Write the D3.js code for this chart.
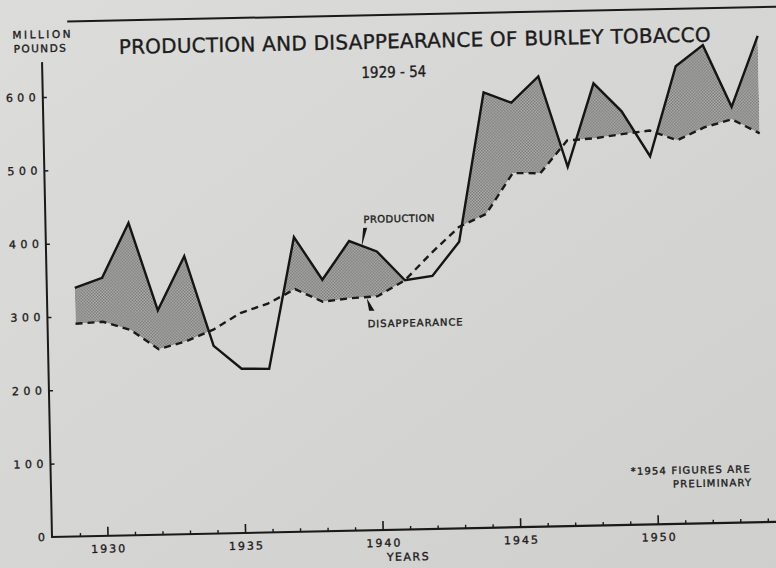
<!DOCTYPE html>
<html>
<head>
<meta charset="utf-8">
<script src="https://cdn.jsdelivr.net/npm/d3@7"></script>
<style>
  body { margin: 0; background: #d4d4d2; }
  svg { display: block; }
  text { font-family: "DejaVu Sans", sans-serif; fill: #1c1c1c; stroke: #1c1c1c; stroke-width: 0.35px; }
</style>
</head>
<body>
<div id="chart"></div>
<script>
// burley tobacco, million pounds
var years = [1929,1930,1931,1932,1933,1934,1935,1936,1937,1938,1939,1940,1941,
             1942,1943,1944,1945,1946,1947,1948,1949,1950,1951,1952,1953,1954];
var production = [339,352,426,306,379,256,224,223,402,343,395,380,340,
                  345,391,594,579,614,490,603,564,502,624,652,567,663];
var disappearance = [290,292,280,253,263,278,300,312,331,313,317,319,340,
                     377,411,428,483,482,526,528,533,537,523,540,550,530];
var yTicks = [0,100,200,300,400,500,600];
var majorYears = [1930,1935,1940,1945,1950];

var width = 776, height = 568;

var svg = d3.select("#chart").append("svg")
    .attr("width", width).attr("height", height);

var defs = svg.append("defs");

// photo paper tone
var grad = defs.append("linearGradient").attr("id", "paper")
    .attr("x1", "0").attr("y1", "0").attr("x2", "1").attr("y2", "1");
grad.append("stop").attr("offset", "0").attr("stop-color", "#dcdcda");
grad.append("stop").attr("offset", "1").attr("stop-color", "#cfcfcd");
svg.append("rect").attr("width", width).attr("height", height).attr("fill", "url(#paper)");

// stipple shading
var pat = defs.append("pattern").attr("id", "stipple")
    .attr("patternUnits", "userSpaceOnUse").attr("width", 3).attr("height", 3);
pat.append("rect").attr("width", 3).attr("height", 3).attr("fill", "#b5b5b3");
pat.append("rect").attr("width", 1.5).attr("height", 1.5).attr("fill", "#737373");
pat.append("rect").attr("x", 1.5).attr("y", 1.5).attr("width", 1.5).attr("height", 1.5).attr("fill", "#737373");

// the photographed sheet is tilted a little
var g = svg.append("g").attr("transform", "rotate(-1.2,52,537)");

var x = d3.scaleLinear().domain([1929, 1954]).range([80, 768]);
var y = d3.scaleLinear().domain([0, 600]).range([537, 97]);

var rows = years.map(function(yr, i) {
  return {year: yr, prod: production[i], dis: disappearance[i]};
});

// only shade where production is above disappearance
defs.append("clipPath").attr("id", "aboveDis")
  .append("path")
    .attr("d", d3.area()
        .x(function(d) { return x(d.year); })
        .y0(-50)
        .y1(function(d) { return y(d.dis); })(rows));

g.append("path")
    .attr("d", d3.area()
        .x(function(d) { return x(d.year); })
        .y0(function(d) { return y(d.prod); })
        .y1(function(d) { return y(d.dis); })(rows))
    .attr("fill", "url(#stipple)")
    .attr("clip-path", "url(#aboveDis)");

g.append("path")
    .attr("d", d3.line()
        .x(function(d) { return x(d.year); })
        .y(function(d) { return y(d.dis); })(rows))
    .attr("fill", "none")
    .attr("stroke", "#1a1a1a")
    .attr("stroke-width", 2.4)
    .attr("stroke-dasharray", "7,5");

g.append("path")
    .attr("d", d3.line()
        .x(function(d) { return x(d.year); })
        .y(function(d) { return y(d.prod); })(rows))
    .attr("fill", "none")
    .attr("stroke", "#151515")
    .attr("stroke-width", 2.4)
    .attr("stroke-linejoin", "miter");

// axes
g.append("line")
    .attr("x1", 52).attr("x2", 52).attr("y1", y(0)).attr("y2", 62)
    .attr("stroke", "#1a1a1a").attr("stroke-width", 2);
g.append("line")
    .attr("x1", 51).attr("x2", 800).attr("y1", y(0)).attr("y2", y(0))
    .attr("stroke", "#1a1a1a").attr("stroke-width", 2.2);

var yAxis = g.append("g").attr("transform", "translate(52,0)")
    .call(d3.axisLeft(y).tickValues(yTicks).tickSizeInner(-4).tickSizeOuter(0).tickPadding(2.5));
yAxis.select(".domain").remove();
yAxis.selectAll("line").attr("stroke", "#1a1a1a").attr("stroke-width", 1.5)
    .filter(function(d) { return d === 0; }).remove();
yAxis.selectAll("text")
    .attr("font-family", "DejaVu Sans").attr("font-size", 11)
    .style("letter-spacing", "4.5px").attr("fill", "#1c1c1c");

var xMajor = g.append("g").attr("transform", "translate(0," + y(0) + ")")
    .call(d3.axisBottom(x).tickValues(majorYears).tickFormat(d3.format("d"))
        .tickSizeInner(-9).tickSizeOuter(0).tickPadding(9));
xMajor.select(".domain").remove();
xMajor.selectAll("line").attr("stroke", "#1a1a1a").attr("stroke-width", 1.6);
xMajor.selectAll("text")
    .attr("font-family", "DejaVu Sans").attr("font-size", 11)
    .attr("dx", 1)
    .style("letter-spacing", "2px").attr("fill", "#1c1c1c");

var xMinor = g.append("g").attr("transform", "translate(0," + y(0) + ")")
    .call(d3.axisBottom(x)
        .tickValues(years.filter(function(d) { return majorYears.indexOf(d) < 0; }))
        .tickFormat("").tickSizeInner(-3.5).tickSizeOuter(0));
xMinor.select(".domain").remove();
xMinor.selectAll("line").attr("stroke", "#1a1a1a").attr("stroke-width", 1.4);

// titles and labels
g.append("line")
    .attr("x1", 78).attr("x2", 800).attr("y1", 22).attr("y2", 22)
    .attr("stroke", "#1a1a1a").attr("stroke-width", 2);

g.append("text").attr("x", 129).attr("y", 55.5)
    .attr("font-size", 20).attr("textLength", 592).attr("lengthAdjust", "spacing")
    .text("PRODUCTION AND DISAPPEARANCE OF BURLEY TOBACCO");
g.append("text").attr("x", 371).attr("y", 84.5)
    .attr("font-size", 15.5).attr("textLength", 65).attr("lengthAdjust", "spacingAndGlyphs")
    .text("1929 - 54");

g.append("text").attr("x", 23).attr("y", 38)
    .attr("font-size", 10.5).attr("textLength", 58).attr("lengthAdjust", "spacing")
    .text("MILLION");
g.append("text").attr("x", 24).attr("y", 52)
    .attr("font-size", 10.5).attr("textLength", 52).attr("lengthAdjust", "spacing")
    .text("POUNDS");

g.append("text").attr("x", 408).attr("y", 568)
    .attr("text-anchor", "middle").attr("font-size", 11)
    .style("letter-spacing", "1.5px")
    .text("YEARS");

// series labels with pointers
g.append("text").attr("x", 370).attr("y", 229.5)
    .attr("font-size", 10).attr("textLength", 71).attr("lengthAdjust", "spacing")
    .text("PRODUCTION");
g.append("path")
    .attr("d", "M" + (x(1939.45) + 2) + "," + 234.5 +
               "L" + (x(1939.45) + 6) + "," + 234.5 +
               "L" + x(1939.45) + "," + (y(388) + 1) + "Z")
    .attr("fill", "#151515");

g.append("text").attr("x", 372).attr("y", 334)
    .attr("font-size", 10).attr("textLength", 95).attr("lengthAdjust", "spacing")
    .text("DISAPPEARANCE");
g.append("path")
    .attr("d", "M" + x(1939.6) + "," + (y(318) + 1) +
               "L" + (x(1939.6) + 7.5) + "," + 317.5 +
               "L" + (x(1939.6) + 2) + "," + 317.5 + "Z")
    .attr("fill", "#151515");

// footnote
g.append("text").attr("x", 751).attr("y", 487)
    .attr("text-anchor", "end").attr("font-size", 10)
    .attr("textLength", 119).attr("lengthAdjust", "spacing")
    .text("*1954 FIGURES ARE");
g.append("text").attr("x", 752).attr("y", 500.5)
    .attr("text-anchor", "end").attr("font-size", 10)
    .attr("textLength", 78).attr("lengthAdjust", "spacing")
    .text("PRELIMINARY");
</script>
</body>
</html>
